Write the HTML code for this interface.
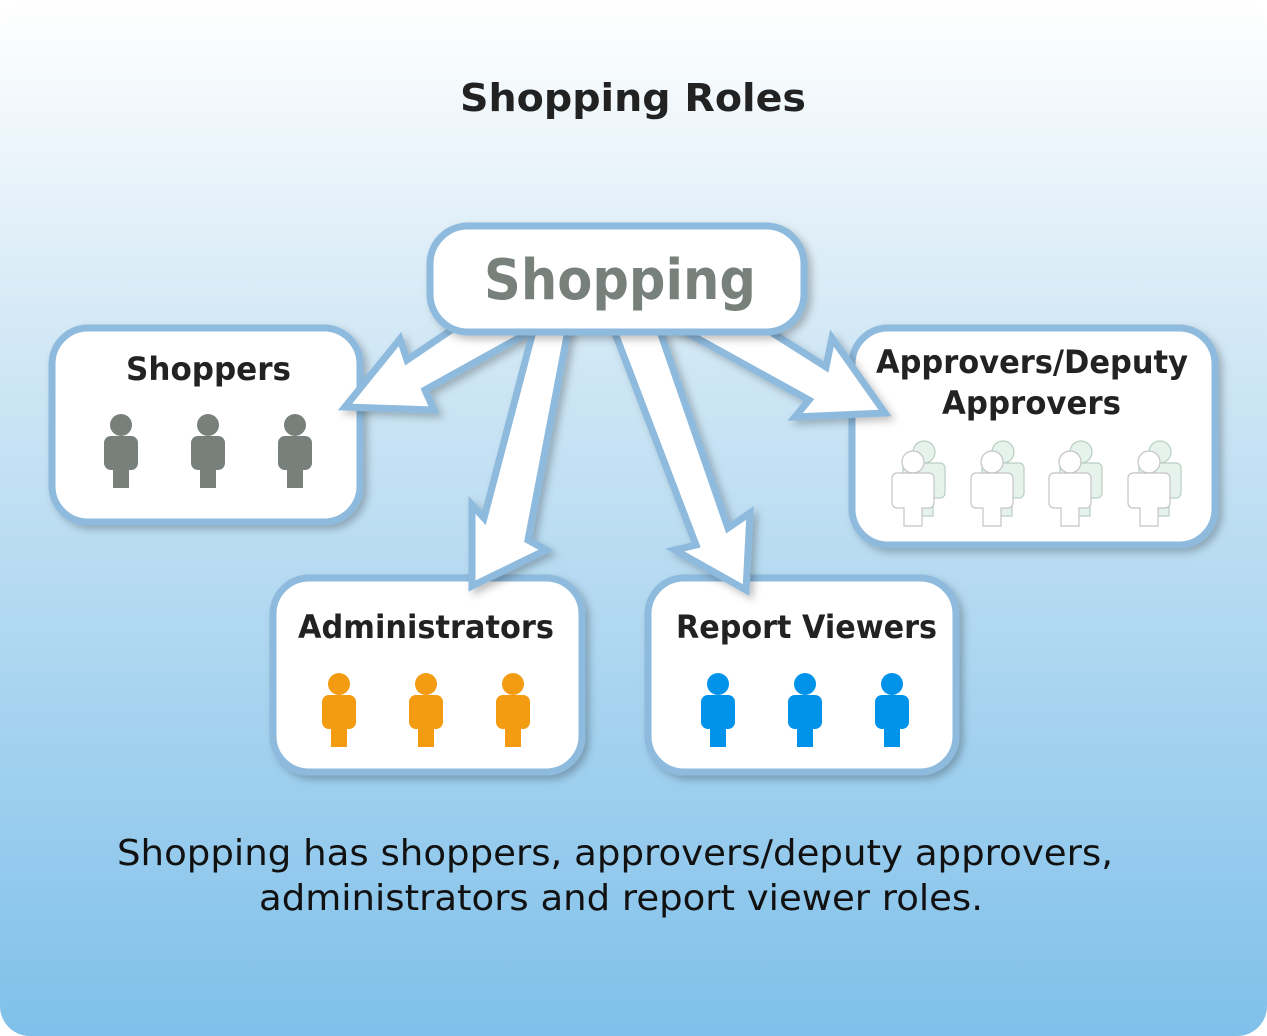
<!DOCTYPE html>
<html><head><meta charset="utf-8"><style>
html,body{margin:0;padding:0;background:#fff;}
svg{display:block;}
text{font-family:"DejaVu Sans","Liberation Sans",sans-serif;}
</style></head><body>
<svg width="1267" height="1036" viewBox="0 0 1267 1036" xmlns="http://www.w3.org/2000/svg">
<defs>
<linearGradient id="bg" x1="0" y1="0" x2="0" y2="1">
<stop offset="0" stop-color="#ffffff"/>
<stop offset="0.3" stop-color="#d6eaf6"/>
<stop offset="1" stop-color="#7fc0ea"/>
</linearGradient>
<filter id="sh" x="-20%" y="-20%" width="140%" height="140%">
<feDropShadow dx="4" dy="4" stdDeviation="4" flood-color="#000" flood-opacity="0.25"/>
</filter>
<g id="p">
<circle cx="0" cy="0" r="11"/>
<rect x="-17" y="11" width="34" height="34" rx="7"/>
<rect x="-8" y="40" width="16" height="23"/>
</g>
<g id="ap">
<g transform="translate(11,-10)" fill="#e6f3ec" stroke="#b9cfc3" stroke-width="1.2">
<circle cx="0" cy="0" r="11"/>
<path d="M-16 11 h32 a5 5 0 0 1 5 5 v25 a5 5 0 0 1 -5 5 h-7 v18 h-18 v-18 h-7 a5 5 0 0 1 -5 -5 v-25 a5 5 0 0 1 5 -5z"/>
</g>
<g fill="#ffffff" stroke="#c4c4c4" stroke-width="1.2">
<circle cx="0" cy="0" r="11"/>
<path d="M-16 11 h32 a5 5 0 0 1 5 5 v25 a5 5 0 0 1 -5 5 h-7 v18 h-18 v-18 h-7 a5 5 0 0 1 -5 -5 v-25 a5 5 0 0 1 5 -5z"/>
</g>
</g>
</defs>
<rect x="0" y="0" width="1267" height="1036" rx="30" fill="url(#bg)"/>
<text x="460" y="111" textLength="346" lengthAdjust="spacingAndGlyphs" font-size="38" font-weight="bold" fill="#222">Shopping Roles</text>

<g fill="#fff" stroke="#8dbadd" stroke-width="7" filter="url(#sh)">
<rect x="52" y="328" width="308" height="194" rx="36"/>
<rect x="852" y="328" width="363" height="217" rx="36"/>
<rect x="273" y="578" width="309" height="194" rx="36"/>
<rect x="648" y="578" width="308" height="194" rx="36"/>
</g>

<g fill="#fff" stroke="#8dbadd" stroke-width="7" stroke-linejoin="miter" filter="url(#sh)">
<polygon points="466,320 407,360 400,339 345,407 434,410 425,390 551,320"/>
<polygon points="536,320 570,320 528,540 546,550 472,586 472,505 484,518"/>
<polygon points="610,320 656,320 728,528 750,513 746,590 675,550 696,545"/>
<polygon points="752,320 826,367 832,338 885,413 795,417 809,400 664,320"/>
</g>

<rect x="430" y="226" width="374" height="106" rx="38" fill="#fff" stroke="#8dbadd" stroke-width="7" filter="url(#sh)"/>
<text x="484" y="299" textLength="272" lengthAdjust="spacingAndGlyphs" font-size="56" font-weight="bold" fill="#77807a">Shopping</text>

<g font-size="32" font-weight="bold" fill="#222">
<text x="126" y="380" textLength="165" lengthAdjust="spacingAndGlyphs">Shoppers</text>
<text x="876" y="373" textLength="312" lengthAdjust="spacingAndGlyphs">Approvers/Deputy</text>
<text x="942" y="414" textLength="179" lengthAdjust="spacingAndGlyphs">Approvers</text>
<text x="298" y="638" textLength="256" lengthAdjust="spacingAndGlyphs">Administrators</text>
<text x="676" y="638" textLength="261" lengthAdjust="spacingAndGlyphs">Report Viewers</text>
</g>

<g fill="#77807a">
<use href="#p" x="121" y="425"/><use href="#p" x="208" y="425"/><use href="#p" x="295" y="425"/>
</g>
<g fill="#f39c12">
<use href="#p" x="339" y="684"/><use href="#p" x="426" y="684"/><use href="#p" x="513" y="684"/>
</g>
<g fill="#0093e9">
<use href="#p" x="718" y="684"/><use href="#p" x="805" y="684"/><use href="#p" x="892" y="684"/>
</g>
<use href="#ap" x="913" y="462"/><use href="#ap" x="992" y="462"/><use href="#ap" x="1070" y="462"/><use href="#ap" x="1149" y="462"/>

<g font-size="36" fill="#111">
<text x="117" y="865" textLength="996" lengthAdjust="spacingAndGlyphs">Shopping has shoppers, approvers/deputy approvers,</text>
<text x="259" y="910" textLength="724" lengthAdjust="spacingAndGlyphs">administrators and report viewer roles.</text>
</g>
</svg>
</body></html>
